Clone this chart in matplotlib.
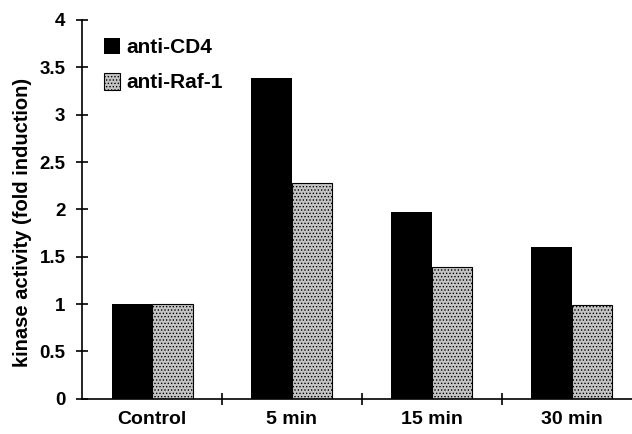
import matplotlib
matplotlib.use('Agg')
import matplotlib.pyplot as plt
from matplotlib.ticker import FormatStrFormatter

categories = ['Control', '5 min', '15 min', '30 min']
anti_cd4 = [1.0, 3.39, 1.97, 1.60]
anti_raf1 = [1.0, 2.28, 1.39, 0.99]

plt.rcParams['font.family'] = ['Liberation Sans', 'DejaVu Sans']
plt.rcParams['font.weight'] = 'bold'
plt.rcParams['hatch.linewidth'] = 0.6
plt.rcParams['hatch.color'] = '#555555'

fig = plt.figure(figsize=(6.32, 4.34), dpi=100)
ax = fig.add_axes([0.130, 0.081, 0.885, 0.873])

x = list(range(len(categories)))
w = 0.29
ax.bar([i - w / 2 for i in x], anti_cd4, width=w, color='black',
       label='anti-CD4')
ax.bar([i + w / 2 for i in x], anti_raf1, width=w, facecolor='#c4c4c4',
       edgecolor='black', linewidth=0.8, hatch='.....', label='anti-Raf-1')

ax.set_xlim(-0.5, 3.5)
ax.set_ylim(0, 4)
ax.set_yticks([0, 0.5, 1, 1.5, 2, 2.5, 3, 3.5, 4])
ax.yaxis.set_major_formatter(FormatStrFormatter('%g'))
ax.set_xticks(x)
ax.set_xticklabels(categories)
ax.set_xticks([0.5, 1.5, 2.5], minor=True)

ax.tick_params(axis='x', which='major', length=0, pad=9, labelsize=14)
ax.tick_params(axis='x', which='minor', direction='inout', length=8, width=1.2)
ax.tick_params(axis='y', direction='inout', length=8, width=1.2, pad=8,
               labelsize=13.5)

for s in ['top', 'right']:
    ax.spines[s].set_visible(False)
for s in ['left', 'bottom']:
    ax.spines[s].set_linewidth(1.2)

ax.set_ylabel('kinase activity (fold induction)', fontsize=14.5,
              fontweight='bold')
ax.yaxis.set_label_coords(-0.089, 0.465)

ax.legend(loc='upper left', bbox_to_anchor=(0.025, 0.975), frameon=False,
          fontsize=15, handlelength=0.75, handleheight=0.85, handletextpad=0.3,
          labelspacing=0.75, borderaxespad=0)

fig.savefig('out.png', dpi=100)
